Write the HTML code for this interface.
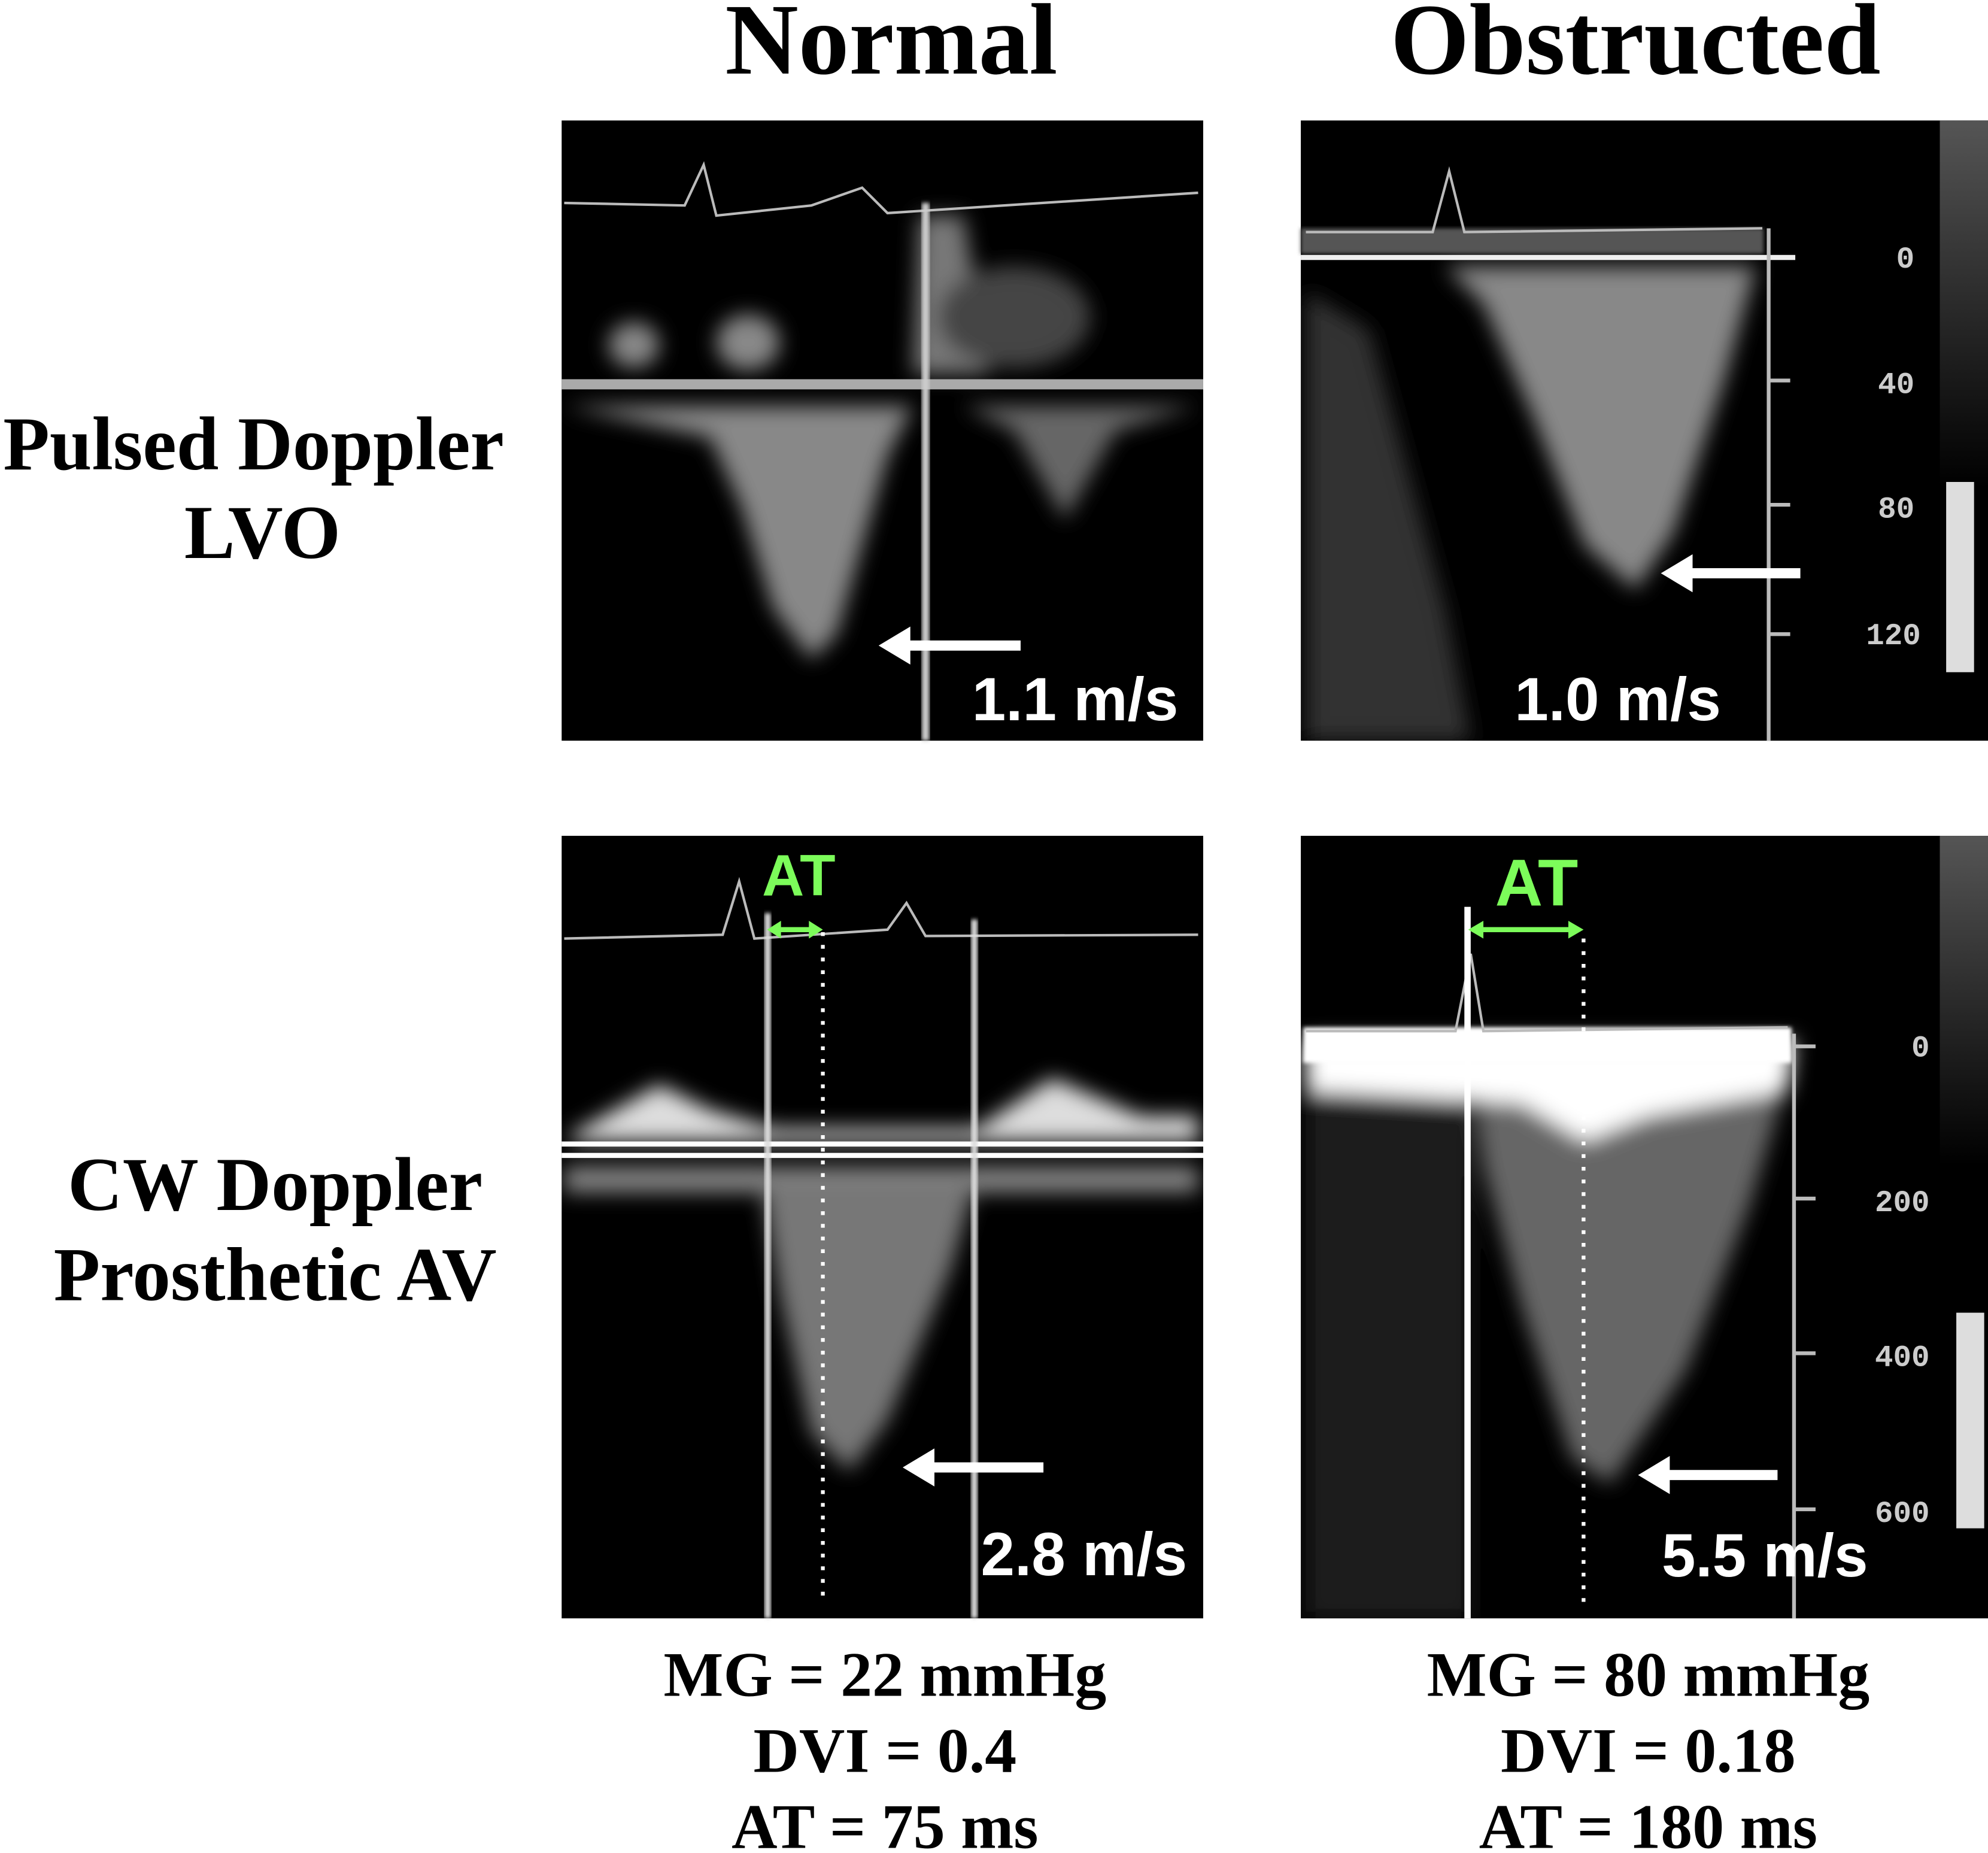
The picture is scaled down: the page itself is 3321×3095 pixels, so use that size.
<!DOCTYPE html>
<html><head><meta charset="utf-8"><style>
html,body{margin:0;padding:0;background:#fff;}
svg{display:block;}
.t{font-family:"Liberation Serif",serif;font-weight:bold;fill:#000;}
.w{font-family:"Liberation Sans",sans-serif;font-weight:bold;fill:#fff;}
.g{font-family:"Liberation Sans",sans-serif;font-weight:bold;fill:#7CFC5A;}
.s{font-family:"Liberation Mono",monospace;font-weight:bold;fill:#ccc;}
</style></head><body>
<svg width="3321" height="3095" viewBox="0 0 1568 1461" preserveAspectRatio="none" xmlns="http://www.w3.org/2000/svg">
<defs>
<filter id="b8"><feGaussianBlur stdDeviation="8"/></filter>
<filter id="b2"><feGaussianBlur stdDeviation="1.5"/></filter>
<linearGradient id="gb" x1="0" y1="0" x2="0" y2="1"><stop offset="0" stop-color="#555"/><stop offset="1" stop-color="#000"/></linearGradient>
<clipPath id="c1"><rect x="443" y="95" width="506" height="489"/></clipPath>
<clipPath id="c2"><rect x="1026" y="95" width="542" height="489"/></clipPath>
<clipPath id="c3"><rect x="443" y="659" width="506" height="617"/></clipPath>
<clipPath id="c4"><rect x="1026" y="659" width="542" height="617"/></clipPath>
</defs>
<rect width="1568" height="1461" fill="#fff"/>
<text class="t" x="703" y="58" font-size="80" text-anchor="middle">Normal</text>
<text class="t" x="1290" y="58" font-size="80" text-anchor="middle">Obstructed</text>
<text class="t" x="200" y="370" font-size="60" text-anchor="middle">Pulsed Doppler</text>
<text class="t" x="207" y="440" font-size="60" text-anchor="middle">LVO</text>
<text class="t" x="217" y="954" font-size="60" text-anchor="middle">CW Doppler</text>
<text class="t" x="217" y="1025" font-size="60" text-anchor="middle">Prosthetic AV</text>

<!-- Top-left -->
<rect x="443" y="95" width="506" height="489" fill="#000"/>
<g clip-path="url(#c1)"><g filter="url(#b8)" fill="#888">
<path d="M445 320 L720 320 L700 360 L660 500 L640 520 L610 480 L585 400 L560 345 Z"/>
<path d="M760 320 L945 320 L880 340 L840 410 L800 340 Z" fill="#666"/>
<ellipse cx="500" cy="272" rx="20" ry="18"/>
<ellipse cx="590" cy="270" rx="25" ry="22"/>
<path d="M725 170 L760 170 L780 295 L720 295 Z" fill="#777"/>
<ellipse cx="800" cy="250" rx="60" ry="40" fill="#444"/>
</g></g>
<rect x="443" y="299" width="506" height="8" fill="#aaa"/>
<polyline points="445,160 540,162 555,130 565,170 640,162 680,148 700,168 945,152" fill="none" stroke="#bbb" stroke-width="2"/>
<rect x="727" y="160" width="6" height="424" fill="#ccc" filter="url(#b2)"/>
<line x1="805" y1="509" x2="710" y2="509" stroke="#fff" stroke-width="8"/>
<polygon points="693,509 718,494 718,524" fill="#fff"/>
<text class="w" x="848" y="568" font-size="48" text-anchor="middle">1.1 m/s</text>

<!-- Top-right -->
<rect x="1026" y="95" width="542" height="489" fill="#000"/>
<rect x="1530" y="95" width="38" height="290" fill="url(#gb)"/>
<g clip-path="url(#c2)"><g filter="url(#b8)" fill="#888">
<path d="M1140 210 L1385 210 L1360 300 L1320 420 L1290 465 L1250 430 L1210 330 L1170 240 Z"/>
<path d="M1030 230 L1080 260 L1140 480 L1160 584 L1030 584 Z" fill="#333"/>
</g></g>
<rect x="1026" y="180" width="365" height="20" fill="#555" filter="url(#b2)"/>
<polyline points="1030,183 1130,183 1143,135 1155,183 1390,180" fill="none" stroke="#bbb" stroke-width="2"/>
<rect x="1026" y="201" width="390" height="4" fill="#eee"/>
<line x1="1395" y1="180" x2="1395" y2="584" stroke="#bbb" stroke-width="3"/>
<g stroke="#bbb" stroke-width="3"><line x1="1395" y1="300" x2="1412" y2="300"/><line x1="1395" y1="398" x2="1412" y2="398"/><line x1="1395" y1="500" x2="1412" y2="500"/></g>
<text class="s" x="1510" y="211" font-size="24" text-anchor="end">0</text>
<text class="s" x="1510" y="310" font-size="24" text-anchor="end">40</text>
<text class="s" x="1510" y="408" font-size="24" text-anchor="end">80</text>
<text class="s" x="1515" y="508" font-size="24" text-anchor="end">120</text>
<rect x="1535" y="380" width="22" height="150" fill="#ddd"/>
<line x1="1420" y1="452" x2="1328" y2="452" stroke="#fff" stroke-width="8"/>
<polygon points="1310,452 1335,437 1335,467" fill="#fff"/>
<text class="w" x="1276" y="568" font-size="48" text-anchor="middle">1.0 m/s</text>

<!-- Bottom-left -->
<rect x="443" y="659" width="506" height="617" fill="#000"/>
<g clip-path="url(#c3)"><g filter="url(#b8)">
<path d="M450 895 L520 855 L560 875 L610 890 L770 890 L830 850 L900 880 L945 880 L945 900 L450 900 Z" fill="#ddd"/>
<path d="M445 920 L945 920 L945 940 L445 940 Z" fill="#888"/>
<path d="M600 930 L770 930 L750 1000 L700 1120 L670 1160 L640 1130 L615 1020 Z" fill="#777"/>
</g></g>
<polyline points="445,740 570,737 583,695 595,740 700,733 715,712 730,738 945,737" fill="none" stroke="#bbb" stroke-width="2"/>
<rect x="443" y="900" width="506" height="4" fill="#fff"/>
<rect x="443" y="909" width="506" height="4" fill="#fff"/>
<rect x="603" y="720" width="5" height="556" fill="#ddd" filter="url(#b2)"/>
<rect x="766" y="725" width="5" height="551" fill="#ddd" filter="url(#b2)"/>
<line x1="649" y1="735" x2="649" y2="1265" stroke="#fff" stroke-width="3" stroke-dasharray="3,7"/>
<text class="g" x="630" y="706" font-size="46" text-anchor="middle">AT</text>
<line x1="612" y1="733" x2="642" y2="733" stroke="#7CFC5A" stroke-width="4"/>
<polygon points="605,733 616,726 616,740" fill="#7CFC5A"/><polygon points="649,733 638,726 638,740" fill="#7CFC5A"/>
<line x1="823" y1="1157" x2="730" y2="1157" stroke="#fff" stroke-width="8"/>
<polygon points="712,1157 737,1142 737,1172" fill="#fff"/>
<text class="w" x="855" y="1242" font-size="48" text-anchor="middle">2.8 m/s</text>

<!-- Bottom-right -->
<rect x="1026" y="659" width="542" height="617" fill="#000"/>
<rect x="1530" y="659" width="38" height="260" fill="url(#gb)"/>
<g clip-path="url(#c4)"><g filter="url(#b8)">
<path d="M1160 850 L1410 850 L1380 950 L1330 1080 L1270 1170 L1240 1150 L1200 1030 L1170 920 Z" fill="#666"/>
<path d="M1030 850 L1160 850 L1160 1276 L1030 1276 Z" fill="#1a1a1a"/>
<path d="M1030 820 L1415 820 L1410 860 L1300 880 L1250 900 L1200 870 L1030 860 Z" fill="#fff"/>
</g></g>
<rect x="1028" y="810" width="385" height="28" fill="#fff" filter="url(#b2)"/>
<polyline points="1030,813 1148,813 1160,752 1170,813 1410,810" fill="none" stroke="#bbb" stroke-width="2"/>
<rect x="1155" y="715" width="5" height="561" fill="#fff"/>
<line x1="1249" y1="740" x2="1249" y2="1265" stroke="#fff" stroke-width="3" stroke-dasharray="3,7"/>
<line x1="1415" y1="815" x2="1415" y2="1276" stroke="#bbb" stroke-width="3"/>
<g stroke="#bbb" stroke-width="3"><line x1="1415" y1="825" x2="1432" y2="825"/><line x1="1415" y1="945" x2="1432" y2="945"/><line x1="1415" y1="1067" x2="1432" y2="1067"/><line x1="1415" y1="1190" x2="1432" y2="1190"/></g>
<text class="s" x="1522" y="833" font-size="24" text-anchor="end">0</text>
<text class="s" x="1522" y="955" font-size="24" text-anchor="end">200</text>
<text class="s" x="1522" y="1077" font-size="24" text-anchor="end">400</text>
<text class="s" x="1522" y="1200" font-size="24" text-anchor="end">600</text>
<rect x="1543" y="1035" width="22" height="170" fill="#ddd"/>
<text class="g" x="1212" y="714" font-size="52" text-anchor="middle">AT</text>
<line x1="1166" y1="733" x2="1240" y2="733" stroke="#7CFC5A" stroke-width="4"/>
<polygon points="1158,733 1170,726 1170,740" fill="#7CFC5A"/><polygon points="1249,733 1237,726 1237,740" fill="#7CFC5A"/>
<line x1="1402" y1="1163" x2="1310" y2="1163" stroke="#fff" stroke-width="8"/>
<polygon points="1292,1163 1317,1148 1317,1178" fill="#fff"/>
<text class="w" x="1392" y="1243" font-size="48" text-anchor="middle">5.5 m/s</text>

<!-- Bottom text -->
<text class="t" x="698" y="1337" font-size="50" text-anchor="middle">MG = 22 mmHg</text>
<text class="t" x="698" y="1397" font-size="50" text-anchor="middle">DVI = 0.4</text>
<text class="t" x="698" y="1457" font-size="50" text-anchor="middle">AT = 75 ms</text>
<text class="t" x="1300" y="1337" font-size="50" text-anchor="middle">MG = 80 mmHg</text>
<text class="t" x="1300" y="1397" font-size="50" text-anchor="middle">DVI = 0.18</text>
<text class="t" x="1300" y="1457" font-size="50" text-anchor="middle">AT = 180 ms</text>
</svg>
</body></html>
